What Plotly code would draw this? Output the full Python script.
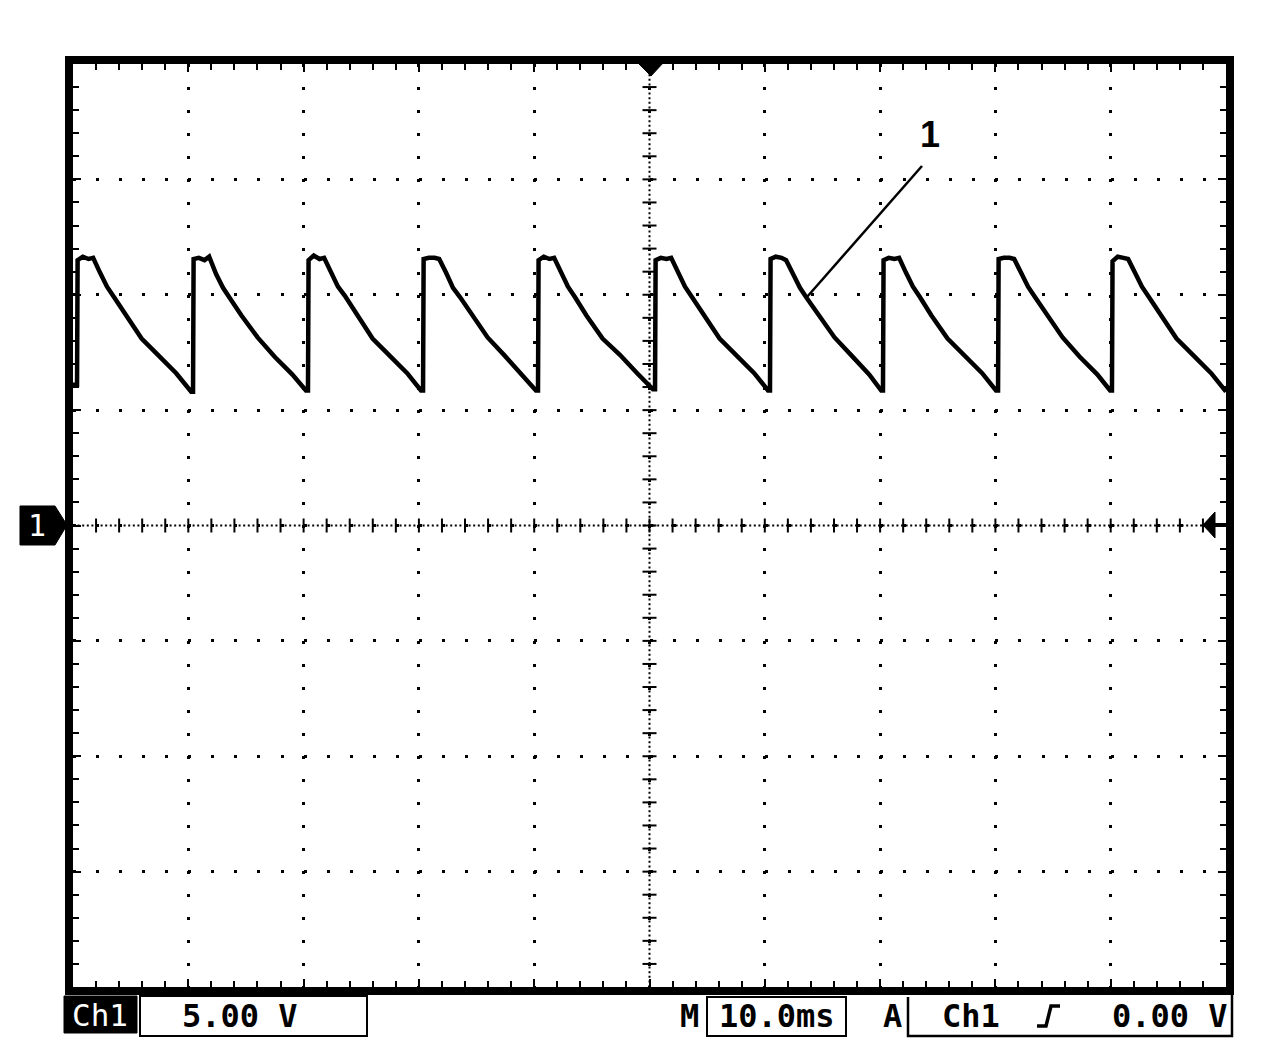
import plotly.graph_objects as go

# Channel 1 trace: time in ms (10 ms/div, 10 div), voltage in V (5 V/div)
time_ms = [
    0.00, 0.35, 0.40, 0.85, 1.35, 1.75, 2.35, 2.95, 3.55, 4.55, 5.95, 7.45, 8.95, 10.25,
    10.41, 10.46, 10.91, 11.41, 11.81, 12.41, 13.01, 13.61, 14.61, 16.01, 17.51, 19.01, 20.20,
    20.38, 20.43, 20.88, 21.38, 21.78, 22.38, 22.98, 23.58, 24.58, 25.98, 27.48, 28.98, 30.18,
    30.36, 30.41, 30.86, 31.36, 31.76, 32.36, 32.96, 33.56, 34.56, 35.96, 37.46, 38.96, 40.15,
    40.33, 40.38, 40.83, 41.33, 41.73, 42.33, 42.93, 43.53, 44.53, 45.93, 47.43, 48.93, 50.30,
    50.48, 50.53, 50.98, 51.48, 51.88, 52.48, 53.08, 53.68, 54.68, 56.08, 57.58, 59.08, 60.28,
    60.45, 60.50, 60.95, 61.45, 61.85, 62.45, 63.05, 63.65, 64.65, 66.05, 67.55, 69.05, 70.10,
    70.25, 70.30, 70.75, 71.25, 71.65, 72.25, 72.85, 73.45, 74.45, 75.85, 77.35, 78.85, 80.05,
    80.23, 80.28, 80.73, 81.23, 81.63, 82.23, 82.83, 83.43, 84.43, 85.83, 87.33, 88.83, 89.95,
    90.11, 90.16, 90.61, 91.11, 91.51, 92.11, 92.71, 93.31, 94.31, 95.71, 97.21, 98.71, 100.00,
]
volts = [
    6.10, 6.10, 11.50, 11.65, 11.55, 11.60, 10.95, 10.35, 9.90, 9.15, 8.10, 7.35, 6.60, 5.80,
    5.80, 11.55, 11.60, 11.50, 11.65, 10.90, 10.30, 9.85, 9.10, 8.15, 7.30, 6.55, 5.85,
    5.85, 11.50, 11.70, 11.55, 11.60, 10.95, 10.35, 9.95, 9.15, 8.10, 7.35, 6.60, 5.85,
    5.85, 11.55, 11.60, 11.60, 11.55, 10.95, 10.30, 9.90, 9.15, 8.15, 7.35, 6.55, 5.85,
    5.85, 11.50, 11.65, 11.55, 11.60, 11.00, 10.35, 9.90, 9.10, 8.10, 7.40, 6.60, 5.90,
    5.90, 11.50, 11.60, 11.55, 11.60, 10.95, 10.35, 9.90, 9.15, 8.10, 7.35, 6.60, 5.85,
    5.85, 11.55, 11.65, 11.60, 11.50, 10.90, 10.30, 9.85, 9.15, 8.15, 7.35, 6.55, 5.85,
    5.85, 11.50, 11.60, 11.55, 11.60, 10.95, 10.35, 9.90, 9.10, 8.10, 7.35, 6.60, 5.85,
    5.85, 11.55, 11.60, 11.60, 11.55, 10.95, 10.35, 9.90, 9.15, 8.15, 7.30, 6.55, 5.85,
    5.85, 11.45, 11.65, 11.60, 11.55, 10.95, 10.35, 9.90, 9.15, 8.10, 7.35, 6.60, 5.80,
]

x_range_ms = [0, 100]
y_range_v = [-20, 20]
x_div_ms = 10
y_div_v = 5
center_time_ms = 50

ch_label = "Ch1"
volts_per_div_text = "5.00 V"
time_per_div_text = "10.0ms"
trigger_source_text = "Ch1"
trigger_level_text = "0.00 V"
curve_label = "1"
ground_label = "1"

# ---------------- geometry helpers (screen pixel -> paper) ----------------
PAGE_OFF = 8                     # default body margin of the html page
W, H = 1280 - 2 * PAGE_OFF, 1054 - 2 * PAGE_OFF
L, R, T, B = 73, 1226, 64, 987   # plot area in screen pixels


def px(p):
    return (p - L) / (R - L)


def py(p):
    return (B - p) / (B - T)


MONO = "DejaVu Sans Mono"

fig = go.Figure()

# graticule: tick marks on the centre cross
fine_v = [v for v in range(y_range_v[0] + 1, y_range_v[1])]
fine_t = [t for t in range(x_range_ms[0] + 2, x_range_ms[1], 2)]
fig.add_trace(go.Scatter(
    x=[center_time_ms] * len(fine_v), y=fine_v, mode="markers",
    marker=dict(symbol="line-ew", size=10, line=dict(width=2, color="black")),
    hoverinfo="skip", showlegend=False))
fig.add_trace(go.Scatter(
    x=fine_t, y=[0] * len(fine_t), mode="markers",
    marker=dict(symbol="line-ns", size=10, line=dict(width=2, color="black")),
    hoverinfo="skip", showlegend=False))

# the waveform
fig.add_trace(go.Scatter(
    x=time_ms, y=volts, mode="lines",
    line=dict(color="black", width=4.5),
    hoverinfo="skip", showlegend=False))

axis_common = dict(
    showline=True, linewidth=8, linecolor="black", mirror="allticks",
    showgrid=True, gridcolor="black", gridwidth=2.5, griddash="3px,20.06px",
    zeroline=False, showticklabels=False,
    ticks="inside", ticklen=8, tickwidth=2, tickcolor="black",
    fixedrange=True,
)
fig.update_xaxes(range=x_range_ms, dtick=x_div_ms, tick0=0,
                 minor=dict(ticks="inside", dtick=2, ticklen=6, tickwidth=2,
                            tickcolor="black", showgrid=False),
                 **axis_common)
fig.update_yaxes(range=y_range_v, dtick=y_div_v, tick0=0,
                 minor=dict(ticks="inside", dtick=1, ticklen=6, tickwidth=2,
                            tickcolor="black", showgrid=False),
                 **axis_common)

shapes = []
# centre cross (dense dotted)
shapes.append(dict(type="line", xref="x", yref="y", x0=center_time_ms, x1=center_time_ms,
                   y0=y_range_v[0], y1=y_range_v[1],
                   line=dict(color="black", width=2, dash="2px,2.6px"), layer="below"))
shapes.append(dict(type="line", xref="x", yref="y", x0=x_range_ms[0], x1=x_range_ms[1],
                   y0=0, y1=0,
                   line=dict(color="black", width=2, dash="2px,2.6px"), layer="below"))


def path(points, close=True):
    s = "M " + " L ".join(f"{px(a):.5f},{py(b):.5f}" for a, b in points)
    return s + (" Z" if close else "")


# ground marker on the left
shapes.append(dict(type="path", xref="paper", yref="paper",
                   path=path([(20, 506), (55, 506), (67, 525), (55, 545), (20, 545)]),
                   fillcolor="black", line=dict(color="black", width=1)))
# marker on the right
shapes.append(dict(type="path", xref="paper", yref="paper",
                   path=path([(1203, 525), (1215, 512), (1215, 538)]),
                   fillcolor="black", line=dict(color="black", width=1)))
shapes.append(dict(type="line", xref="paper", yref="paper",
                   x0=px(1212), x1=px(1226), y0=py(525), y1=py(525),
                   line=dict(color="black", width=4)))
# trigger position marker on top
shapes.append(dict(type="path", xref="paper", yref="paper",
                   path=path([(637, 62), (664, 62), (651, 76)]),
                   fillcolor="black", line=dict(color="black", width=1)))
# leader line for label "1"
shapes.append(dict(type="line", xref="paper", yref="paper",
                   x0=px(922), y0=py(166), x1=px(807), y1=py(297),
                   line=dict(color="black", width=2.5)))

# status bar boxes
shapes.append(dict(type="rect", xref="paper", yref="paper",
                   x0=px(64), x1=px(137), y0=py(996), y1=py(1033),
                   fillcolor="black", line=dict(color="black", width=1)))
shapes.append(dict(type="rect", xref="paper", yref="paper",
                   x0=px(140), x1=px(367), y0=py(996), y1=py(1036),
                   line=dict(color="black", width=2)))
shapes.append(dict(type="rect", xref="paper", yref="paper",
                   x0=px(707), x1=px(846), y0=py(997), y1=py(1036),
                   line=dict(color="black", width=2)))
shapes.append(dict(type="path", xref="paper", yref="paper",
                   path=path([(908, 997), (908, 1036), (1232, 1036), (1232, 994)], close=False),
                   line=dict(color="black", width=2.5)))
# rising-edge trigger symbol
shapes.append(dict(type="path", xref="paper", yref="paper",
                   path=path([(1037, 1026), (1046, 1026), (1051, 1006), (1060, 1006)], close=False),
                   line=dict(color="black", width=3.5)))

annotations = []


def label(text, x, y, size=32, color="black", bold=True, family=MONO):
    annotations.append(dict(
        xref="paper", yref="paper", x=px(x), y=py(y), xanchor="center", yanchor="middle",
        text=(f"<b>{text}</b>" if bold else text), showarrow=False,
        font=dict(family=family, size=size, color=color)))


label(ground_label, 37, 525, size=30, color="white", bold=False)
label(curve_label, 930, 135, size=36, bold=True, family="Liberation Sans")
label(ch_label, 100, 1015, size=31, color="white", bold=False)
label(volts_per_div_text, 240, 1016)
label("M", 689, 1016)
label(time_per_div_text, 777, 1016)
label("A", 893, 1016)
label(trigger_source_text, 971, 1016)
label(trigger_level_text, 1170, 1016)

fig.update_layout(
    width=W, height=H,
    margin=dict(l=L - PAGE_OFF, r=W - (R - PAGE_OFF), t=T - PAGE_OFF, b=H - (B - PAGE_OFF), pad=0),
    paper_bgcolor="white", plot_bgcolor="white",
    shapes=shapes, annotations=annotations,
    showlegend=False,
)

fig.write_html("out.html")
